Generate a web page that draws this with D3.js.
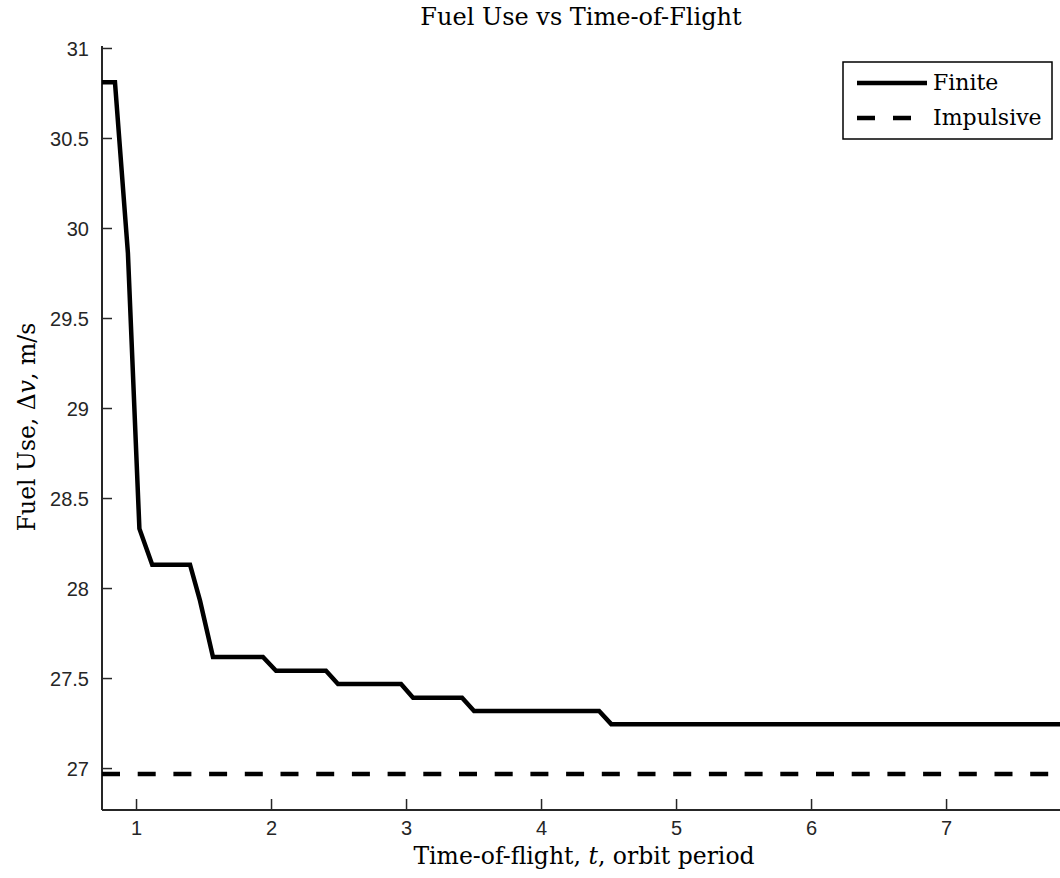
<!DOCTYPE html>
<html>
<head>
<meta charset="utf-8">
<script src="https://cdn.jsdelivr.net/npm/d3@7"></script>
<style>
  html, body { margin: 0; padding: 0; background: #fff; }
  svg { display: block; }
</style>
</head>
<body>
<svg id="chart" width="1060" height="878"></svg>
<script>
// Finite-burn transfer: fuel use (m/s) against time of flight (orbit periods)
const tFinite  = [0.748, 0.844, 0.94, 1.025, 1.12, 1.40, 1.474, 1.57, 1.94, 2.037, 2.407, 2.496, 2.963, 3.052, 3.415, 3.504, 4.43, 4.52, 7.844];
const dvFinite = [30.81, 30.81, 29.86, 28.33, 28.13, 28.13, 27.93, 27.617, 27.617, 27.54, 27.54, 27.467, 27.467, 27.39, 27.39, 27.317, 27.317, 27.244, 27.244];

// Impulsive transfer reference level
const tImpulsive  = [0.748, 7.844];
const dvImpulsive = [26.967, 26.967];

const xTicks = [1, 2, 3, 4, 5, 6, 7];
const yTicks = [27, 27.5, 28, 28.5, 29, 29.5, 30, 30.5, 31];

const seriesNames = ["Finite", "Impulsive"];

const svg = d3.select("#chart");
const plotLeft = 102, plotRight = 1060, plotTop = 46, plotBottom = 810;
const axisColor = "#262626";
const serif = "'DejaVu Serif', 'Liberation Serif', serif";
const sans = "'Liberation Sans', Arial, sans-serif";

const x = d3.scaleLinear().domain([0.748, 7.844]).range([plotLeft, plotRight]);
const y = d3.scaleLinear().domain([26.767, 31.011]).range([plotBottom, plotTop]);

// clip the plot area
svg.append("defs").append("clipPath").attr("id", "plotArea")
  .append("rect").attr("x", plotLeft).attr("y", plotTop)
  .attr("width", plotRight - plotLeft).attr("height", plotBottom - plotTop);

// axes
const xAxis = d3.axisTop(x).tickValues(xTicks).tickSize(11);
const yAxis = d3.axisRight(y).tickValues(yTicks).tickSize(10);

const gx = svg.append("g").attr("transform", `translate(0,${plotBottom})`).call(xAxis);
gx.select(".domain").remove();
gx.selectAll(".tick line").attr("stroke", axisColor).attr("stroke-width", 1.5);
gx.selectAll(".tick text").remove();
gx.selectAll(".tick").append("text")
  .attr("y", 25).attr("text-anchor", "middle")
  .attr("fill", axisColor).attr("font-family", sans).attr("font-size", 20)
  .text(d => d);

const gy = svg.append("g").attr("transform", `translate(${plotLeft},0)`).call(yAxis);
gy.select(".domain").remove();
gy.selectAll(".tick line").attr("stroke", axisColor).attr("stroke-width", 1.5);
gy.selectAll(".tick text").remove();
gy.selectAll(".tick").append("text")
  .attr("x", -13).attr("dy", "0.36em").attr("text-anchor", "end")
  .attr("fill", axisColor).attr("font-family", sans).attr("font-size", 20)
  .text(d => d);

// axis spines (left and bottom only)
svg.append("line").attr("x1", plotLeft).attr("x2", plotLeft).attr("y1", plotTop).attr("y2", plotBottom)
  .attr("stroke", axisColor).attr("stroke-width", 2);
svg.append("line").attr("x1", plotLeft).attr("x2", plotRight).attr("y1", plotBottom).attr("y2", plotBottom)
  .attr("stroke", axisColor).attr("stroke-width", 2);

// series
const line = d3.line().x(d => x(d[0])).y(d => y(d[1]));
const plot = svg.append("g").attr("clip-path", "url(#plotArea)");

plot.append("path")
  .datum(d3.zip(tFinite, dvFinite))
  .attr("d", line)
  .attr("fill", "none").attr("stroke", "#000").attr("stroke-width", 4.5)
  .attr("stroke-linejoin", "miter");

plot.append("path")
  .datum(d3.zip(tImpulsive, dvImpulsive))
  .attr("d", line)
  .attr("fill", "none").attr("stroke", "#000").attr("stroke-width", 4.5)
  .attr("stroke-dasharray", "18,17.7");

// title and axis labels
svg.append("text").attr("x", 581).attr("y", 25).attr("text-anchor", "middle")
  .attr("font-family", serif).attr("font-size", 24).attr("fill", "#000")
  .text("Fuel Use vs Time-of-Flight");

const xl = svg.append("text").attr("x", 584).attr("y", 864).attr("text-anchor", "middle")
  .attr("font-family", serif).attr("font-size", 23.5).attr("fill", "#000");
xl.append("tspan").text("Time-of-flight, ");
xl.append("tspan").attr("font-style", "italic").text("t");
xl.append("tspan").text(", orbit period");

const yl = svg.append("text").attr("transform", `translate(35,427) rotate(-90)`).attr("text-anchor", "middle")
  .attr("font-family", serif).attr("font-size", 23.5).attr("fill", "#000");
yl.append("tspan").text("Fuel Use, Δ");
yl.append("tspan").attr("font-style", "italic").text("v");
yl.append("tspan").text(", m/s");

// legend
const lg = svg.append("g");
lg.append("rect").attr("x", 843).attr("y", 62).attr("width", 209).attr("height", 77)
  .attr("fill", "#fff").attr("stroke", "#000").attr("stroke-width", 1.5);
const legendRows = [
  { name: seriesNames[0], y: 83, dash: null },
  { name: seriesNames[1], y: 118, dash: "18,18" }
];
legendRows.forEach(r => {
  lg.append("line").attr("x1", 857).attr("x2", r.dash ? 912 : 927).attr("y1", r.y).attr("y2", r.y)
    .attr("stroke", "#000").attr("stroke-width", 4.5)
    .attr("stroke-dasharray", r.dash);
  lg.append("text").attr("x", 933).attr("y", r.y + 7)
    .attr("font-family", serif).attr("font-size", 22).attr("fill", "#000")
    .text(r.name);
});
</script>
</body>
</html>
